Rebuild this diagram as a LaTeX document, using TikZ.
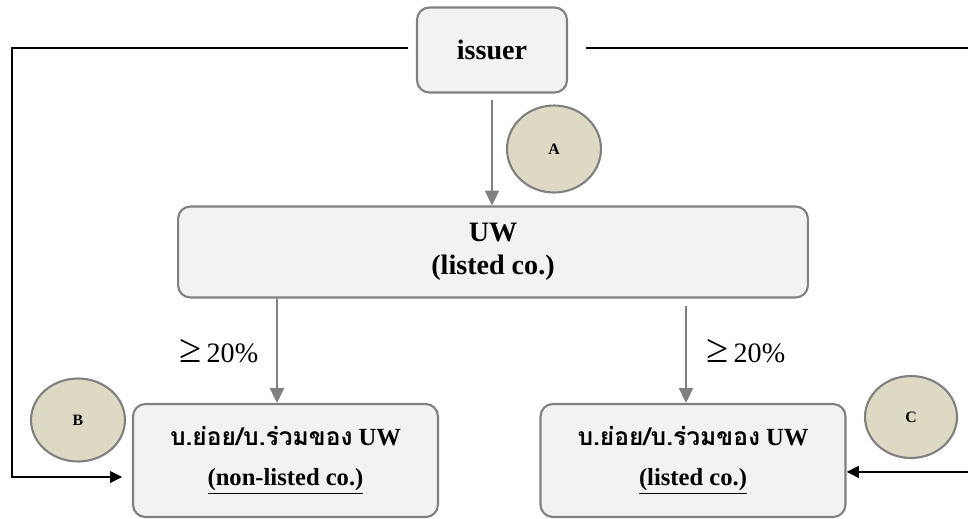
\documentclass[tikz,border=0pt]{standalone}
\usepackage{fontspec}
\setmainfont{Liberation Serif}
\newfontfamily\thaifont[Script=Thai]{Loma}
\definecolor{boxgray}{RGB}{242,242,242}
\definecolor{linegray}{RGB}{128,128,128}
\definecolor{badgetan}{RGB}{221,217,195}
\usetikzlibrary{arrows.meta}
\usetikzlibrary{shapes.geometric}
\tikzset{
  box/.style={draw=linegray,line width=1.2pt,fill=boxgray,rounded corners=7pt,
    align=center,font=\fontsize{14}{23}\selectfont\bfseries},
  badge/.style={draw=linegray,line width=1.2pt,fill=badgetan,ellipse,
    font=\fontsize{9}{10}\selectfont\bfseries},
  flow/.style={draw=linegray,line width=1.2pt,-{Triangle[length=8.5pt,width=8pt]}},
  link/.style={draw=black,line width=1.6pt,-{Triangle[length=7pt,width=6.5pt]}},
  share/.style={font=\fontsize{16}{18}\selectfont},
}
\newcommand{\thaiuw}{{\thaifont\bfseries บ.ย่อย/บ.ร่วมของ} UW}
\newcommand{\atleast}{{\fontsize{23}{18}\selectfont ≥}\,20\%}

\begin{document}
\begin{tikzpicture}[x=0.02cm,y=-0.02cm]
  \useasboundingbox (0,0) rectangle (968,518);

  % boxes
  \node [box,minimum width=3cm,minimum height=1.7cm,
    font=\fontsize{16}{19}\selectfont\bfseries] (issuer) at (492,50) {issuer};
  \node [box,minimum width=12.6cm,minimum height=1.82cm,
    font=\fontsize{16}{19}\selectfont\bfseries] (uw) at (493,252) {UW\\(listed co.)};
  \node [box,minimum width=6.1cm,minimum height=2.26cm] (sub1) at (285.5,460.5)
    {\thaiuw\\\underline{(non-listed co.)}};
  \node [box,minimum width=6.1cm,minimum height=2.26cm] (sub2) at (693,460.5)
    {\thaiuw\\\underline{(listed co.)}};

  % badges
  \node [badge,minimum width=1.88cm,minimum height=1.74cm] (a) at (554,149) {A};
  \node [badge,minimum width=1.88cm,minimum height=1.66cm] (b) at (78,420) {B};
  \node [badge,minimum width=1.84cm,minimum height=1.64cm] (c) at (911,417) {C};

  % shares
  \draw [flow] (492,100) -- (uw.north -| 492,0);
  \draw [flow] (uw.south -| 277,0) -- (sub1.north -| 277,0);
  \draw [flow] ([yshift=-4pt]uw.south -| 686,0) -- (sub2.north -| 686,0);
  \node [share] (p1) at (219,351) {\atleast};
  \node [share] (p2) at (746,351) {\atleast};

  % direct links
  \coordinate (lend) at (12,48);
  \coordinate (rend) at (973,48);
  \draw [link] ([xshift=-4.5pt]issuer.west |- lend) -- (lend)
    |- ([xshift=-5.5pt,yshift=-9.4pt]sub1.west);
  \draw [link] ([xshift=10.5pt]issuer.east |- rend) -- (rend)
    |- ([yshift=-6.5pt]sub2.east);
\end{tikzpicture}
\end{document}
